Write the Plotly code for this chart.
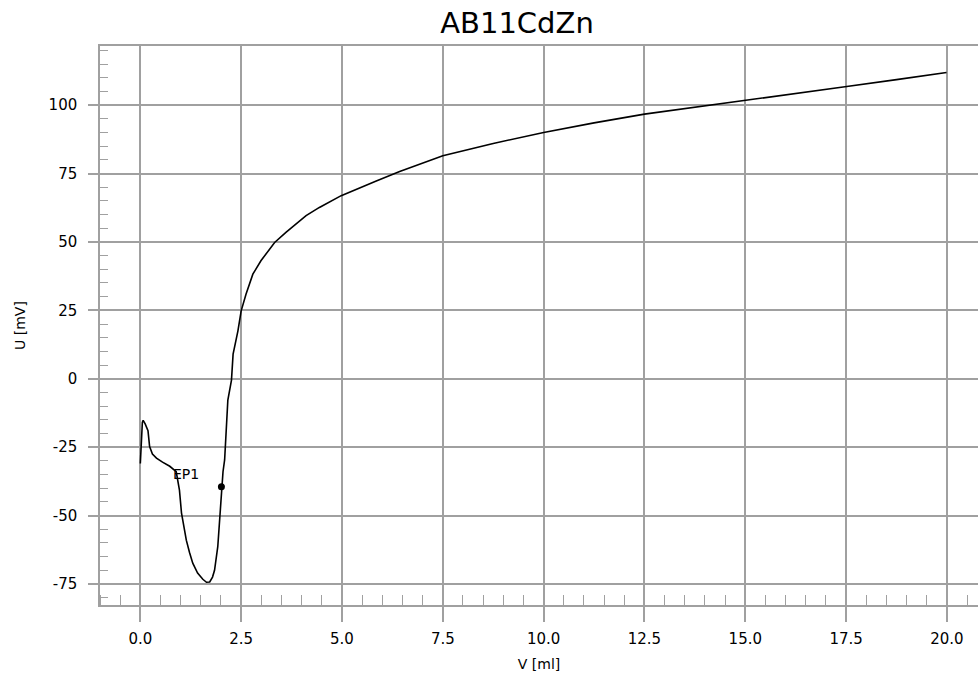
import plotly.graph_objects as go

# Titration curve data
volume_ml = [0.0, 0.02, 0.05, 0.07, 0.12, 0.19, 0.23, 0.30, 0.40, 0.55, 0.73, 0.89, 0.93,
             0.97, 1.02, 1.08, 1.14, 1.22, 1.30, 1.42, 1.55, 1.64, 1.72, 1.79, 1.84, 1.92,
             1.97, 2.01, 2.05, 2.09, 2.13, 2.17, 2.26, 2.30, 2.42, 2.50, 2.62, 2.79, 2.99,
             3.33, 3.61, 4.11, 4.44, 4.98, 5.85, 6.43, 7.50, 8.75, 10.0, 11.25, 12.5,
             13.37, 14.97, 16.25, 17.47, 18.75, 19.99]
potential_mv = [-31, -24, -16, -15.2, -16.5, -19, -24.8, -27.5, -29, -30.5, -32, -34, -37,
                -40.7, -49, -54, -59, -63.5, -67.4, -71, -73.3, -74.4, -74.3, -72.5, -70, -61.4,
                -51, -39.5, -34, -29.7, -17.5, -7.8, -0.5, 9, 17.5, 24.8, 30.9, 38.2, 43.1,
                49.8, 53.5, 59.6, 62.6, 66.9, 72.3, 75.7, 81.5, 86, 90, 93.5, 96.7,
                98.5, 101.8, 104.3, 106.7, 109.3, 111.9]

ep_name = ["EP1"]
ep_volume = [2.01]
ep_potential = [-39.5]
ep_label_pos = [1.14, -34.8]

x_ticks = [0.0, 2.5, 5.0, 7.5, 10.0, 12.5, 15.0, 17.5, 20.0]
x_tick_text = ["0.0", "2.5", "5.0", "7.5", "10.0", "12.5", "15.0", "17.5", "20.0"]
y_ticks = [-75, -50, -25, 0, 25, 50, 75, 100]
y_tick_text = ["-75", "-50", "-25", "0", "25", "50", "75", "100"]

GRID = "#a0a0a0"
FONT = "DejaVu Sans"

fig = go.Figure()
fig.add_trace(go.Scatter(x=volume_ml, y=potential_mv, mode="lines",
                         line=dict(color="black", width=1.6), hoverinfo="x+y",
                         showlegend=False))
fig.add_trace(go.Scatter(x=ep_volume, y=ep_potential, mode="markers",
                         marker=dict(color="black", size=7), showlegend=False))
fig.add_annotation(x=ep_label_pos[0], y=ep_label_pos[1], text=ep_name[0], showarrow=False,
                   font=dict(family=FONT, size=14, color="black"),
                   xanchor="center", yanchor="middle")

fig.update_layout(
    width=978, height=677,
    margin=dict(l=100, r=0, t=46, b=72, autoexpand=False),
    paper_bgcolor="white", plot_bgcolor="white",
    font=dict(family=FONT, size=14, color="black"),
    title=dict(text="AB11CdZn", font=dict(family=FONT, size=29, color="black"),
               x=517 / 978, xref="container", xanchor="center",
               y=1 - 22.5 / 677, yref="container", yanchor="middle"),
)

fig.update_xaxes(
    range=[-1.0, 20.77], tickmode="array", tickvals=x_ticks, ticktext=x_tick_text,
    showgrid=True, gridcolor=GRID, gridwidth=1.5, zeroline=False,
    showline=True, linecolor=GRID, linewidth=1.5, mirror=True,
    ticks="outside", ticklen=15, tickwidth=1.5, tickcolor=GRID,
    ticklabelstandoff=4, automargin=False,
    tickfont=dict(family=FONT, size=15),
    minor=dict(dtick=0.5, tick0=0, ticks="inside", ticklen=10, tickwidth=1.3,
               tickcolor=GRID, showgrid=False),
    title=dict(text="V [ml]", font=dict(family=FONT, size=14), standoff=12),
    fixedrange=True,
)
fig.update_yaxes(
    range=[-82.7, 121.6], tickmode="array", tickvals=y_ticks, ticktext=y_tick_text,
    showgrid=True, gridcolor=GRID, gridwidth=1.5, zeroline=False,
    showline=True, linecolor=GRID, linewidth=1.5,
    ticks="outside", ticklen=10, tickwidth=1.5, tickcolor=GRID,
    ticklabelstandoff=8, automargin=False,
    tickfont=dict(family=FONT, size=15),
    minor=dict(dtick=5, tick0=0, ticks="inside", ticklen=8, tickwidth=1.3,
               tickcolor=GRID, showgrid=False),
    title=dict(text="U [mV]", font=dict(family=FONT, size=14), standoff=20),
    fixedrange=True,
)

fig.write_html("out.html", config={"displayModeBar": False},
               post_script="document.body.style.margin='0';document.body.style.overflow='hidden';")
